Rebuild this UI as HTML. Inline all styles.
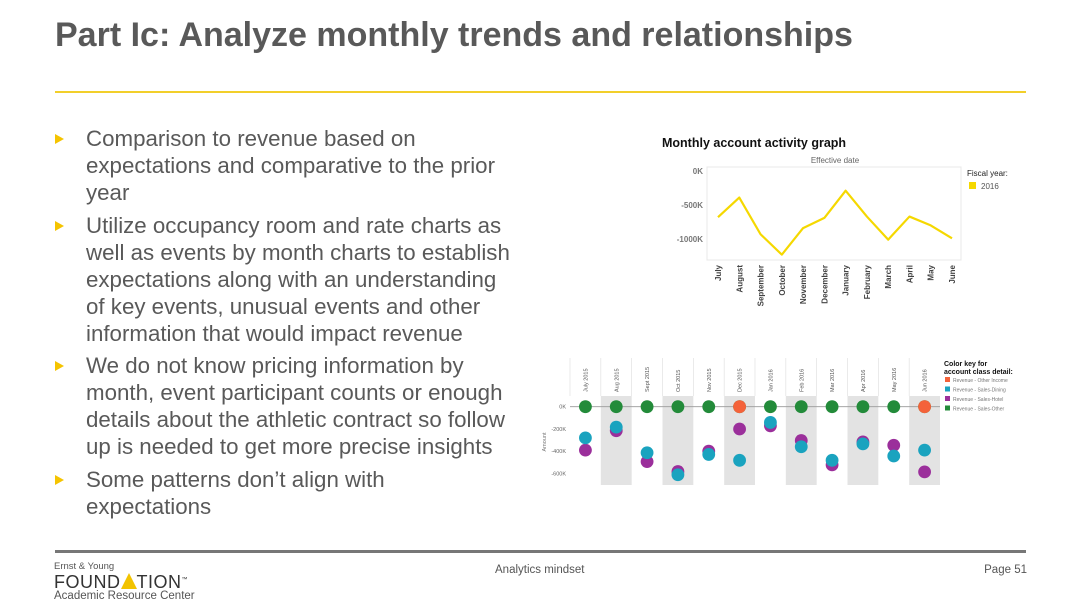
<!DOCTYPE html>
<html><head><meta charset="utf-8">
<style>
body{margin:0;width:1080px;height:607px;background:#fff;position:relative;overflow:hidden;font-family:"Liberation Sans",Arial,sans-serif;}
.t{position:absolute;}
.title{left:55px;top:16px;font-size:34px;font-weight:bold;color:#595959;}
.bul{position:absolute;left:86px;font-size:22.3px;line-height:27px;color:#595959;}
.arr{position:absolute;left:55px;width:0;height:0;border-top:5px solid transparent;border-bottom:5px solid transparent;border-left:9px solid #f5c400;}
</style></head><body>
<div class="t title">Part Ic: Analyze monthly trends and relationships</div>
<div class="t" style="left:55px;top:91px;width:971px;height:2px;background:#f2cf2a"></div>

<div class="arr" style="top:134px"></div>
<div class="bul" style="top:125px">Comparison to revenue based on<br>expectations and comparative to the prior<br>year</div>
<div class="arr" style="top:221px"></div>
<div class="bul" style="top:212px">Utilize occupancy room and rate charts as<br>well as events by month charts to establish<br>expectations along with an understanding<br>of key events, unusual events and other<br>information that would impact revenue</div>
<div class="arr" style="top:361px"></div>
<div class="bul" style="top:352px">We do not know pricing information by<br>month, event participant counts or enough<br>details about the athletic contract so follow<br>up is needed to get more precise insights</div>
<div class="arr" style="top:475px"></div>
<div class="bul" style="top:466px">Some patterns don’t align with<br>expectations</div>

<svg id="line" width="1080" height="607" style="position:absolute;left:0;top:0">
<text x="662" y="147" font-size="12.5" font-weight="bold" fill="#111">Monthly account activity graph</text>
<text x="835" y="163" font-size="8" fill="#666" text-anchor="middle">Effective date</text>
<rect x="707" y="167" width="254" height="93" fill="none" stroke="#e8e8e8"/>
<text x="967" y="176" font-size="8" fill="#222">Fiscal year:</text>
<rect x="969" y="182" width="7" height="7" fill="#f5d800"/>
<text x="981" y="189" font-size="8" fill="#555">2016</text>
</svg>
<svg id="dots" width="1080" height="607" style="position:absolute;left:0;top:0">
<text x="944" y="366" font-size="7" font-weight="bold" fill="#111">Color key for</text>
<text x="944" y="374" font-size="7" font-weight="bold" fill="#111">account class detail:</text>
</svg>

<div class="t" style="left:55px;top:550px;width:971px;height:3px;background:#777"></div>
<div class="t" style="left:54px;top:561px;color:#555">
<div style="font-size:9.5px">Ernst &amp; Young</div>
<div style="font-size:18px;line-height:16px;color:#333;letter-spacing:0.5px">FOUND<span style="display:inline-block;width:0;height:0;border-left:8px solid transparent;border-right:8px solid transparent;border-bottom:16px solid #f2c300;vertical-align:-1px"></span>TION<sup style="font-size:6px">™</sup></div>
<div style="font-size:11.5px">Academic Resource Center</div>
</div>
<div class="t" style="left:495px;top:564px;font-size:11.5px;color:#555">Analytics mindset</div>
<div class="t" style="right:53px;top:564px;font-size:11.5px;color:#555">Page 51</div>

<script>
const NS="http://www.w3.org/2000/svg";
function mk(p,tag,a){const e=document.createElementNS(NS,tag);for(const k in a)e.setAttribute(k,a[k]);p.appendChild(e);return e;}
// Line chart data
const lineMonths=["July","August","September","October","November","December","January","February","March","April","May","June"];
const lineValues=[-680,-390,-930,-1230,-840,-690,-290,-670,-1010,-670,-800,-990];
const lineTicks=[0,-500,-1000];
const lsv=document.getElementById('line');
const lx=i=>718+i*(952-718)/11;
const ly=v=>171-v*0.068;
lineTicks.forEach(t=>{const e=mk(lsv,'text',{x:703,y:ly(t)+3,'font-size':8,'font-weight':'bold',fill:'#777','text-anchor':'end'});e.textContent=(t===0?'0':t)+'K';

});
lineMonths.forEach((m,i)=>{const e=mk(lsv,'text',{transform:`translate(${lx(i)+3},265) rotate(-90)`,'font-size':8,'font-weight':'bold',fill:'#444','text-anchor':'end'});e.textContent=m;

});
const pl=mk(lsv,'polyline',{points:lineValues.map((v,i)=>lx(i)+','+ly(v)).join(' '),fill:'none',stroke:'#f5d800','stroke-width':2.2,'stroke-linejoin':'round'});



// Dot chart data
const dotMonths=["July 2015","Aug 2015","Sept 2015","Oct 2015","Nov 2015","Dec 2015","Jan 2016","Feb 2016","Mar 2016","Apr 2016","May 2016","Jun 2016"];
const diningValues=[-281,-184,-415,-613,-430,-483,-142,-361,-483,-335,-444,-391];
const hotelValues=[-391,-216,-495,-584,-400,-201,-172,-305,-524,-317,-347,-587];
const otherValues=[0,0,0,0,0,0,0,0,0,0,0,0];
const otherIncomeValues=[null,null,null,null,null,0,null,null,null,null,null,0];
const dotTicks=[0,-200,-400,-600];
const legendLabels=["Revenue - Other Income","Revenue - Sales-Dining","Revenue - Sales-Hotel","Revenue - Sales-Other"];
const legendColors=["#f4623a","#1aa3bf","#9b2f9b","#238b3a"];
const dsv=document.getElementById('dots');
const cw=(940-570)/12;
const dx=i=>570+cw*(i+0.5);
const dy=v=>406.7-v*(22.2/200);
dotMonths.forEach((m,i)=>{
 if(i%2===1){const r=mk(dsv,'rect',{x:570+cw*i,y:396,width:cw,height:89,fill:'#e3e3e3'});
 
 }
 const e=mk(dsv,'text',{transform:`translate(${dx(i)+2},392) rotate(-90)`,'font-size':5.5,fill:'#555'});e.textContent=m;
 
 
 const s=mk(dsv,'line',{x1:570+cw*i,x2:570+cw*i,y1:358,y2:396,stroke:'#ddd','stroke-width':0.6});
 
 
});
const zl=mk(dsv,'line',{x1:570,x2:940,y1:dy(0),y2:dy(0),stroke:'#999','stroke-width':0.8});


dotTicks.forEach(t=>{const e=mk(dsv,'text',{x:566,y:dy(t)+2,'font-size':5.5,fill:'#666','text-anchor':'end'});e.textContent=(t===0?'0':t)+'K';

});
const at=mk(dsv,'text',{transform:'translate(546,442) rotate(-90)','font-size':5.5,fill:'#777','text-anchor':'middle'});at.textContent='Amount';


function series(vals,col,name){vals.forEach((v,i)=>{if(v===null)return;const c=mk(dsv,'circle',{cx:dx(i),cy:dy(v),r:6.4,fill:col});

});}
series(hotelValues,legendColors[2],'dot-hotel');
series(diningValues,legendColors[1],'dot-dining');
series(otherValues,legendColors[3],'dot-other');
series(otherIncomeValues,legendColors[0],'dot-other-income');
legendLabels.forEach((l,i)=>{const y=382+i*9.5;
 const r=mk(dsv,'rect',{x:945,y:y-5,width:5,height:5,fill:legendColors[i]});
 
 
 const e=mk(dsv,'text',{x:953,y:y,'font-size':5,fill:'#777'});e.textContent=l;
 
 });
</script>
</body></html>
